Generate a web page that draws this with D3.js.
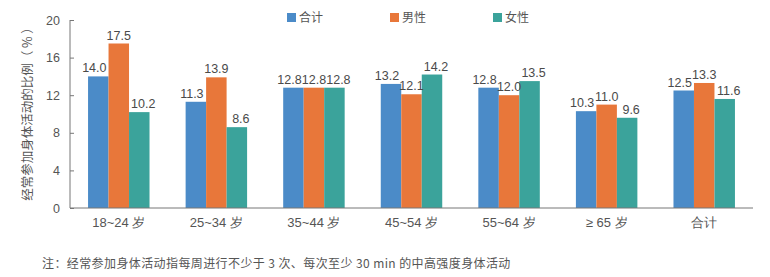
<!DOCTYPE html>
<html>
<head>
<meta charset="utf-8">
<script src="https://cdn.jsdelivr.net/npm/d3@7"></script>
<style>
  html, body { margin: 0; padding: 0; background: #fff; }
  svg { display: block; font-family: "Noto Sans CJK SC", "Liberation Sans", sans-serif; }
</style>
</head>
<body>
<svg id="chart" width="770" height="277"></svg>
<script>
// Age groups and the three series (%)
const categories = ["18~24 岁", "25~34 岁", "35~44 岁", "45~54 岁", "55~64 岁", "≥ 65 岁", "合计"];
const seriesNames = ["合计", "男性", "女性"];
const totalValues = [14.0, 11.3, 12.8, 13.2, 12.8, 10.3, 12.5];
const maleValues = [17.5, 13.9, 12.8, 12.1, 12.0, 11.0, 13.3];
const femaleValues = [10.2, 8.6, 12.8, 14.2, 13.5, 9.6, 11.6];
const yTicks = [0, 4, 8, 12, 16, 20];
const colors = ["#4b8bc8", "#e8773a", "#3ba39b"];
const yTitle = "经常参加身体活动的比例（ % ）";
const note = "注：经常参加身体活动指每周进行不少于 3 次、每次至少 30 min 的中高强度身体活动";

const series = [totalValues, maleValues, femaleValues];
const svg = d3.select("#chart");
const plotLeft = 70, plotRight = 753, plotTop = 20, plotBottom = 208;

const x0 = d3.scaleBand().domain(categories).range([plotLeft, plotRight])
  .paddingInner(0.37).paddingOuter(0.185);
const x1 = d3.scaleBand().domain(d3.range(series.length)).range([0, x0.bandwidth()]);
const y = d3.scaleLinear().domain([0, 20]).range([plotBottom, plotTop]);

// bars
const groups = svg.append("g").selectAll("g")
  .data(categories).join("g")
  .attr("transform", d => `translate(${x0(d)},0)`);

groups.selectAll("rect")
  .data((d, i) => series.map((s, k) => ({ k, v: s[i] })))
  .join("rect")
  .attr("x", d => x1(d.k))
  .attr("width", x1.bandwidth())
  .attr("y", d => y(d.v))
  .attr("height", d => y(0) - y(d.v))
  .attr("fill", d => colors[d.k]);

// value labels, side labels nudged outward so neighbours don't collide
const labelSpread = 4;
groups.selectAll("text")
  .data((d, i) => series.map((s, k) => ({ k, v: s[i] })))
  .join("text")
  .attr("x", d => x1(d.k) + x1.bandwidth() / 2 + (d.k - 1) * labelSpread)
  .attr("y", d => y(d.v) - 4)
  .attr("text-anchor", "middle")
  .attr("font-size", 12.5)
  .attr("font-family", "Liberation Sans, sans-serif")
  .attr("fill", "#4a4a4a")
  .text(d => d.v.toFixed(1));

// y axis
const yAxis = svg.append("g")
  .attr("transform", `translate(${plotLeft},0)`)
  .call(d3.axisRight(y).tickValues(yTicks).tickSize(4).tickFormat(d3.format("d")));
yAxis.select(".domain").attr("stroke", "#777").attr("d", `M0,${plotTop}V${plotBottom}`);
yAxis.selectAll(".tick line").attr("stroke", "#777");
yAxis.selectAll(".tick text")
  .attr("x", -10).attr("text-anchor", "end")
  .attr("font-size", 12.5).attr("fill", "#555")
  .attr("font-family", "Liberation Sans, sans-serif");

// x axis
const xAxis = svg.append("g")
  .attr("transform", `translate(0,${plotBottom})`)
  .call(d3.axisBottom(x0).tickSize(0).tickPadding(10));
xAxis.select(".domain").attr("stroke", "#777").attr("d", `M${plotLeft},0H${plotRight}`);
xAxis.selectAll(".tick text").attr("font-size", 13).attr("fill", "#555");

// y title
svg.append("text")
  .attr("transform", `translate(32,${(plotTop + plotBottom) / 2 - 3}) rotate(-90)`)
  .attr("text-anchor", "middle")
  .attr("font-size", 12.5)
  .attr("fill", "#555")
  .text(yTitle);

// legend
const legendX = [287, 390, 493];
const legend = svg.append("g").selectAll("g")
  .data(seriesNames).join("g")
  .attr("transform", (d, i) => `translate(${legendX[i]},13)`);
legend.append("rect").attr("width", 9).attr("height", 9).attr("fill", (d, i) => colors[i]);
legend.append("text").attr("x", 12).attr("y", 9)
  .attr("font-size", 12).attr("fill", "#555").text(d => d);

// footnote
svg.append("text")
  .attr("x", 42).attr("y", 268)
  .attr("font-size", 12)
  .attr("letter-spacing", 0.4)
  .attr("fill", "#555")
  .text(note);
</script>
</body>
</html>
